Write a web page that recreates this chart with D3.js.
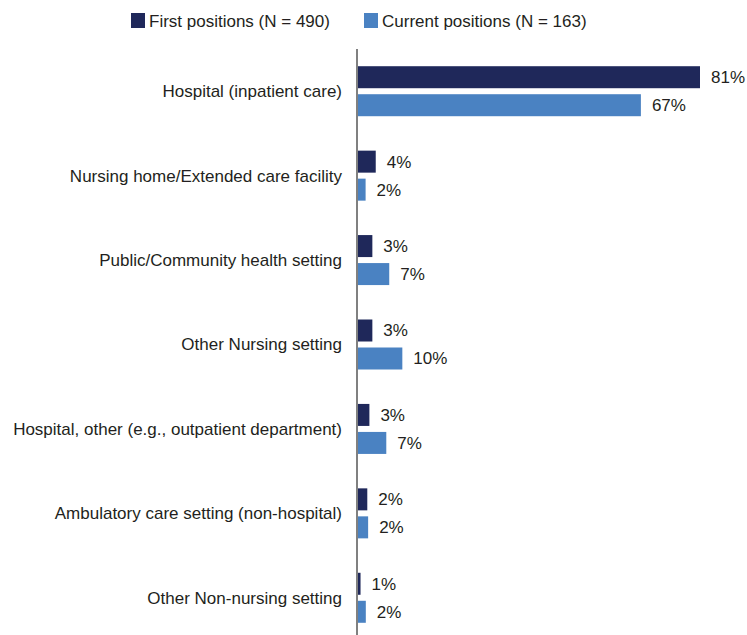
<!DOCTYPE html>
<html><head><meta charset="utf-8">
<script src="https://cdn.jsdelivr.net/npm/d3@7"></script>
<style>body{margin:0;background:#fff}svg{display:block}text{font-family:"Liberation Sans",Arial,Helvetica,sans-serif;fill:#231f20}</style>
</head><body><svg id="c" width="747" height="635"></svg>
<script>
const categories = ["Hospital (inpatient care)","Nursing home/Extended care facility","Public/Community health setting","Other Nursing setting","Hospital, other (e.g., outpatient department)","Ambulatory care setting (non-hospital)","Other Non-nursing setting"];
const seriesNames = ["First positions (N = 490)","Current positions (N = 163)"];
const firstValues = [81, 4.2, 3.4, 3.4, 2.7, 2.2, 0.6];
const currentValues = [67, 1.8, 7.4, 10.5, 6.7, 2.4, 1.85];
const firstLabels = ["81%","4%","3%","3%","3%","2%","1%"];
const currentLabels = ["67%","2%","7%","10%","7%","2%","2%"];
const colors = ["#1f285a","#4a82c2"];

const svg = d3.select("#c");
const x0 = 358;
const x = d3.scaleLinear().domain([0,81]).range([x0,700]);
const y = d3.scaleBand().domain(categories).range([49,640]).paddingInner(0.4).paddingOuter(0.2);
const barH = 22, gap = 6;
const groupH = barH*2+gap;
const fs = 17;

// category labels
svg.append("g").selectAll("text").data(categories).join("text")
  .attr("x",342).attr("y",d=>y(d)+y.bandwidth()/2).attr("dy","0.35em")
  .attr("text-anchor","end").attr("font-size",fs).text(d=>d);

const series = [firstValues,currentValues];
const labels = [firstLabels,currentLabels];
series.forEach((vals,si)=>{
  const g = svg.append("g");
  const top = i => y(categories[i]) + (y.bandwidth()-groupH)/2 + si*(barH+gap);
  g.selectAll("rect").data(vals).join("rect")
    .attr("x",x0).attr("y",(d,i)=>top(i)).attr("width",d=>x(d)-x0).attr("height",barH)
    .attr("fill",colors[si]);
  g.selectAll("text").data(vals).join("text")
    .attr("x",d=>x(d)+11).attr("y",(d,i)=>top(i)+barH/2).attr("dy","0.35em")
    .attr("font-size",fs).text((d,i)=>labels[si][i]);
});

// axis line
svg.append("line").attr("x1",357).attr("x2",357).attr("y1",49).attr("y2",635)
  .attr("stroke","#808080").attr("stroke-width",2);

// legend
const leg = svg.append("g");
const legX = [131,364];
seriesNames.forEach((n,i)=>{
  leg.append("rect").attr("x",legX[i]).attr("y",13).attr("width",14).attr("height",15).attr("fill",colors[i]);
  leg.append("text").attr("x",legX[i]+18).attr("y",21).attr("dy","0.35em").attr("font-size",fs).text(n);
});
</script></body></html>
